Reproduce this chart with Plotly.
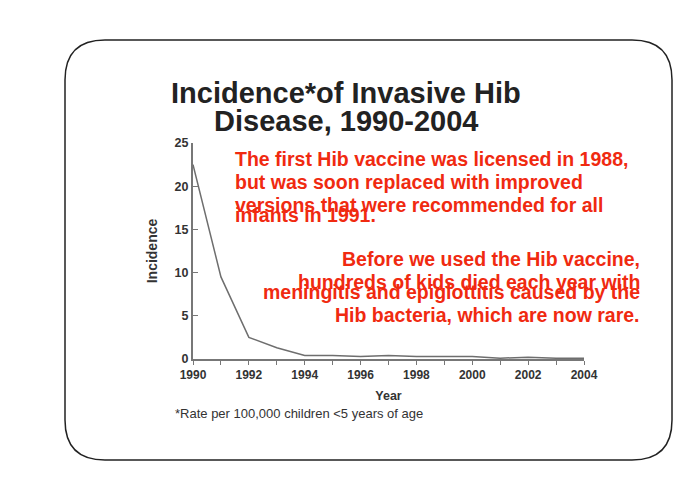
import plotly.graph_objects as go

years = list(range(1990, 2005))
incidence = [22.5, 9.5, 2.5, 1.3, 0.4, 0.4, 0.3, 0.4, 0.3, 0.3, 0.3, 0.1, 0.2, 0.1, 0.1]
x_ticks = list(range(1990, 2005, 2))
y_ticks = [0, 5, 10, 15, 20, 25]
title_lines = ["Incidence*of Invasive Hib", "Disease, 1990-2004"]
note1 = ["The first Hib vaccine was licensed in 1988,", "but was soon replaced with improved",
         "versions that were recommended for all", "infants in 1991."]
note2 = ["Before we used the Hib vaccine,", "hundreds of kids died each year with",
         "meningitis and epiglottitis caused by the", "Hib bacteria, which are now rare."]

W, H = 692, 486
S = 8  # page offset
L, R, T, B = 193 - S, 584 - S, 143 - S, 359 - S
pw, ph = R - L, B - T
def px(x): return (x - S - L) / pw
def py(y): return (B - (y - S)) / ph

fig = go.Figure(go.Scatter(x=years, y=incidence, mode="lines",
                           line=dict(color="#6e6e6e", width=1.5), hoverinfo="skip"))

x0, x1, y0, y1, r = 65, 672, 40, 460, 40
rx, ry = r / pw, r / ph
X0, X1, Y0, Y1 = px(x0), px(x1), py(y1), py(y0)
path = (f"M {X0+rx},{Y1} L {X1-rx},{Y1} Q {X1},{Y1} {X1},{Y1-ry} "
        f"L {X1},{Y0+ry} Q {X1},{Y0} {X1-rx},{Y0} L {X0+rx},{Y0} "
        f"Q {X0},{Y0} {X0},{Y0+ry} L {X0},{Y1-ry} Q {X0},{Y1} {X0+rx},{Y1} Z")
fig.add_shape(type="path", path=path, xref="paper", yref="paper",
              line=dict(color="#222", width=1.5))

font = "Liberation Sans, Arial, sans-serif"
for i, t in enumerate(title_lines):
    fig.add_annotation(text=f"<b>{t}</b>", xref="paper", yref="paper", x=px(346), y=py(75 + 28 * i),
                       showarrow=False, font=dict(size=29, color="#222", family=font))
red = "#f02a10"
for i, t in enumerate(note1):
    fig.add_annotation(text=f"<b>{t}</b>", xref="paper", yref="paper", x=px(233), y=py(146 + 23 * i),
                       xanchor="left", showarrow=False, font=dict(size=19.5, color=red, family=font))
for i, t in enumerate(note2):
    fig.add_annotation(text=f"<b>{t}</b>", xref="paper", yref="paper", x=px(642), y=py(259 + 23 * i),
                       xanchor="right", showarrow=False, font=dict(size=19.5, color=red, family=font))
fig.add_annotation(text="*Rate per 100,000 children <5 years of age",
                   xref="paper", yref="paper", x=px(173), y=py(423), xanchor="left",
                   showarrow=False, font=dict(size=13, color="#333", family=font))

fig.update_layout(width=W, height=H, margin=dict(l=L, r=W - R, t=T, b=H - B),
                  plot_bgcolor="white", paper_bgcolor="white", showlegend=False,
                  font=dict(family=font, color="#333"))
fig.update_xaxes(range=[1990, 2004], tickvals=years,
                 ticktext=[f"<b>{y}</b>" if y in x_ticks else "" for y in years],
                 ticks="outside", ticklen=4, tickcolor="#777", showline=True, linecolor="#777", linewidth=2,
                 showgrid=False, zeroline=False, tickfont=dict(size=12, color="#333"),
                 title=dict(text="<b>Year</b>", font=dict(size=12.5), standoff=10))
fig.update_yaxes(range=[0, 25], tickvals=y_ticks, ticktext=[f"<b>{v}</b>" for v in y_ticks],
                 ticks="inside", ticklen=5, tickcolor="#777", showline=True, linecolor="#777", linewidth=2,
                 showgrid=False, zeroline=False, tickfont=dict(size=12.5, color="#333"),
                 title=dict(text="<b>Incidence</b>", font=dict(size=14), standoff=14))
fig.write_html("out.html")
